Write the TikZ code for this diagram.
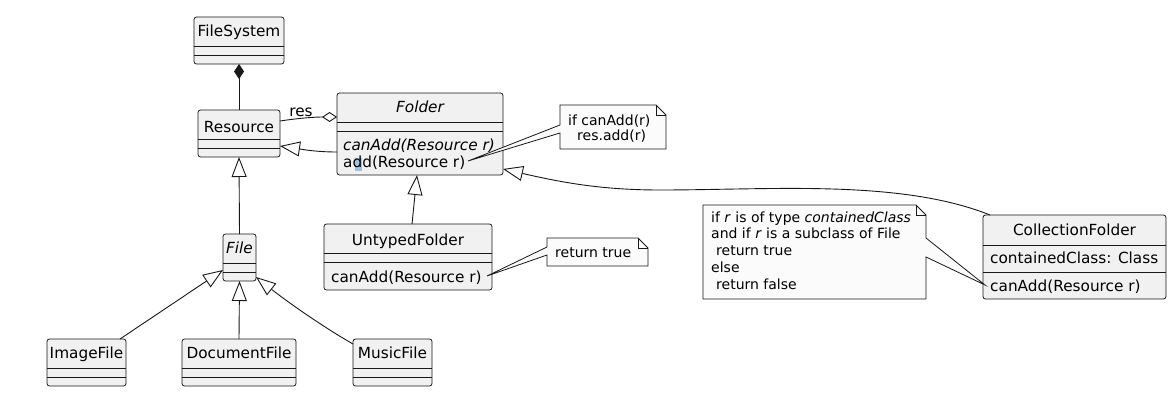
\documentclass[tikz,border=0pt]{standalone}
\usepackage{fontspec}
\setmainfont{DejaVu Sans}
\usetikzlibrary{arrows.meta}
\definecolor{boxfill}{HTML}{F1F1F1}
\definecolor{boxline}{HTML}{181818}
\definecolor{notefill}{HTML}{FBFBFB}
\definecolor{selblue}{HTML}{9DC3E0}
\tikzset{
  cls/.style={draw=boxline, fill=boxfill, rounded corners=2.5pt, line width=0.8pt, inner sep=0pt, outer sep=0pt, anchor=north west},
  sepline/.style={draw=boxline, line width=0.8pt},
  ctext/.style={inner sep=0pt, font=\fontsize{15.3}{18}\selectfont, anchor=base},
  mtext/.style={inner sep=0pt, font=\fontsize{15.3}{18}\selectfont, anchor=base west},
  ntext/.style={inner sep=0pt, font=\fontsize{14}{16.7}\selectfont, anchor=base west},
  notebox/.style={draw=boxline, fill=notefill, line width=0.8pt, line join=miter},
  conn/.style={draw=boxline, line width=0.9pt},
  inh/.style={conn, -{Triangle[length=20pt, width=15pt, fill=white, line width=0.9pt]}},
  comp/.style={conn, -{Diamond[length=15pt, width=10pt, fill=boxline]}},
  aggr/.style={conn, -{Diamond[length=15pt, width=10pt, fill=white, line width=0.9pt]}},
}
\begin{document}
\begin{tikzpicture}[x=1pt,y=-1pt]
\useasboundingbox (0,0) rectangle (1174,412);

% ---------- classes ----------
% FileSystem
\node[cls, minimum width=90pt, minimum height=47pt] (FS) at (194,17) {};
\draw[sepline] (FS.west |- 0,46) -- (FS.east |- 0,46);
\draw[sepline] (FS.west |- 0,55) -- (FS.east |- 0,55);
\node[ctext] (FSt) at (239,37) {FileSystem};

% Resource
\node[cls, minimum width=82pt, minimum height=47pt] (RS) at (198,110) {};
\draw[sepline] (RS.west |- 0,139) -- (RS.east |- 0,139);
\draw[sepline] (RS.west |- 0,148) -- (RS.east |- 0,148);
\node[ctext] (RSt) at (239,132) {Resource};

% Folder
\node[cls, minimum width=166pt, minimum height=82pt] (FO) at (337,93) {};
\draw[sepline] (FO.west |- 0,122) -- (FO.east |- 0,122);
\draw[sepline] (FO.west |- 0,131) -- (FO.east |- 0,131);
\node[ctext] (FOt) at (420,112) {\itshape Folder};
\fill[selblue] (355,158) rectangle (362,171);
\node[mtext] (FOm1) at (343,150) {\itshape canAdd(Resource r)};
\node[mtext] (FOm2) at (343,167) {add(Resource r)};

% UntypedFolder
\node[cls, minimum width=168pt, minimum height=66pt] (UF) at (324,224) {};
\draw[sepline] (UF.west |- 0,253) -- (UF.east |- 0,253);
\draw[sepline] (UF.west |- 0,262) -- (UF.east |- 0,262);
\node[ctext] (UFt) at (408,245) {UntypedFolder};
\node[mtext] (UFm1) at (331,282) {canAdd(Resource r)};

% CollectionFolder
\node[cls, minimum width=183pt, minimum height=84pt] (CF) at (983,215) {};
\draw[sepline] (CF.west |- 0,245) -- (CF.east |- 0,245);
\draw[sepline] (CF.west |- 0,272) -- (CF.east |- 0,272);
\node[ctext] (CFt) at (1074.5,235) {CollectionFolder};
\node[mtext] (CFa1) at (990,263) {containedClass: Class};
\node[mtext] (CFm1) at (990,291) {canAdd(Resource r)};

% File
\node[cls, minimum width=33pt, minimum height=47pt] (FI) at (223,234) {};
\draw[sepline] (FI.west |- 0,263) -- (FI.east |- 0,263);
\draw[sepline] (FI.west |- 0,272) -- (FI.east |- 0,272);
\node[ctext] (FIt) at (239.5,253) {\itshape File};

% ImageFile
\node[cls, minimum width=79pt, minimum height=47pt] (IF) at (47,339) {};
\draw[sepline] (IF.west |- 0,368) -- (IF.east |- 0,368);
\draw[sepline] (IF.west |- 0,377) -- (IF.east |- 0,377);
\node[ctext] (IFt) at (86.5,358) {ImageFile};

% DocumentFile
\node[cls, minimum width=114pt, minimum height=47pt] (DF) at (182,339) {};
\draw[sepline] (DF.west |- 0,368) -- (DF.east |- 0,368);
\draw[sepline] (DF.west |- 0,377) -- (DF.east |- 0,377);
\node[ctext] (DFt) at (239,358) {DocumentFile};

% MusicFile
\node[cls, minimum width=79pt, minimum height=47pt] (MF) at (353,339) {};
\draw[sepline] (MF.west |- 0,368) -- (MF.east |- 0,368);
\draw[sepline] (MF.west |- 0,377) -- (MF.east |- 0,377);
\node[ctext] (MFt) at (392.5,358) {MusicFile};

% ---------- connectors ----------
\draw[comp] (RS.north) -- (FS.south);
\draw[aggr] (RS.east |- 0,121) .. controls (300,118) and (315,117) .. (FO.west |- 0,117);
\node[ctext] (res) at (301,116) {res};
\draw[inh] (FO.west |- 0,152) .. controls (315,152) and (300,149) .. (RS.east |- 0,146);
\draw[inh] (FI.north) -- (RS.south);
\draw[inh] (UF.north -| 412,0) -- (FO.south -| 417,0);
\draw[inh] (CF.north -| 990,0) .. controls (900,179) and (770,190) .. (660,190)
   .. controls (600,190) and (560,182) .. (FO.east |- 0,169);
\draw[inh] (IF.north -| 120,0) -- (FI.west |- 0,270);
\draw[inh] (DF.north) -- (FI.south);
\draw[inh] (MF.north west) ++(0,5) .. controls (320,325) and (285,300) .. (FI.east |- 0,277);

% ---------- notes ----------
\coordinate (n1tip) at (468,161);
\draw[notebox] (560,105) -- (656,105) -- (666,115) -- (666,149) -- (560,149) -- (560,133) -- (n1tip) -- (560,125) -- cycle;
\draw[notebox, fill=none] (656,105) -- (656,115) -- (666,115);
\node[ntext] (n1a) at (568,125) {if canAdd(r)};
\node[ntext] (n1b) at (577,140) {res.add(r)};

\coordinate (n2tip) at (487,276);
\draw[notebox] (547,238) -- (638,238) -- (648,248) -- (648,266) -- (547,266) -- (547,255) -- (n2tip) -- (547,247) -- cycle;
\draw[notebox, fill=none] (638,238) -- (638,248) -- (648,248);
\node[ntext] (n2a) at (555,257) {return true};

\coordinate (n3tip) at (985,285);
\draw[notebox] (703,205) -- (916,205) -- (926,215) -- (926,238) -- (n3tip) -- (926,257) -- (926,299) -- (703,299) -- cycle;
\draw[notebox, fill=none] (916,205) -- (916,215) -- (926,215);
\node[ntext] (n3a) at (711,222) {if \textit{r} is of type \textit{containedClass}};
\node[ntext] (n3b) at (711,238) {and if \textit{r} is a subclass of File};
\node[ntext] (n3c) at (716,255) {return true};
\node[ntext] (n3d) at (711,272) {else};
\node[ntext] (n3e) at (716,289) {return false};
\end{tikzpicture}
\end{document}
